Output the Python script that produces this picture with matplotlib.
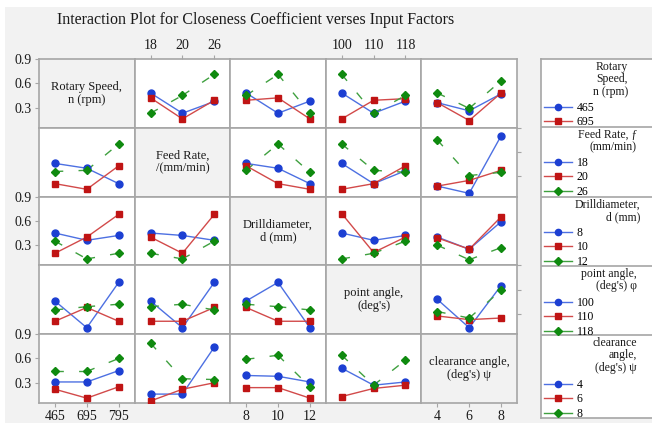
import matplotlib.pyplot as plt
from matplotlib.lines import Line2D
from matplotlib.legend import Legend
from matplotlib.patches import Rectangle

plt.rcParams['font.family'] = ['Liberation Serif', 'DejaVu Serif']

# factor names shown on the diagonal and in the legend
diag_titles = ["Rotary Speed,\nn (rpm)", "Feed Rate,\n/(mm/min)", "Drilldiameter,\nd (mm)",
               "point angle,\n(deg's)", "clearance angle,\n(deg's) \u03c8"]
legend_titles = ["Rotary\nSpeed,\nn (rpm)", "Feed Rate, \u0192\n(mm/min)", "Drilldiameter,\nd (mm)",
                 "point angle,\n(deg's) \u03c6", "clearance\nangle,\n(deg's) \u03c8"]
speed_levels = ["465", "695", "795"]
feed_levels = ["18", "20", "26"]
drill_levels = ["8", "10", "12"]
point_levels = ["100", "110", "118"]
clear_levels = ["4", "6", "8"]
levels = [speed_levels, feed_levels, drill_levels, point_levels, clear_levels]

# closeness coefficient means: one list per column (x factor), traces = levels of the row factor
speed_traces = [
    None,
    [[0.48, 0.23, 0.375], [0.42, 0.16, 0.39], [0.23, 0.45, 0.71]],
    [[0.48, 0.23, 0.38], [0.39, 0.42, 0.16], [0.45, 0.71, 0.23]],
    [[0.48, 0.23, 0.38], [0.16, 0.39, 0.41], [0.71, 0.23, 0.45]],
    [[0.36, 0.26, 0.47], [0.36, 0.14, 0.48], [0.48, 0.29, 0.63]],
]
feed_traces = [
    [[0.46, 0.40, 0.21], [0.21, 0.14, 0.43], [0.36, 0.375, 0.70]],
    None,
    [[0.46, 0.40, 0.21], [0.43, 0.21, 0.14], [0.375, 0.70, 0.35]],
    [[0.46, 0.21, 0.37], [0.14, 0.21, 0.43], [0.70, 0.375, 0.35]],
    [[0.18, 0.09, 0.80], [0.18, 0.25, 0.375], [0.75, 0.31, 0.35]],
]
drill_traces = [
    [[0.45, 0.36, 0.42], [0.20, 0.40, 0.68], [0.35, 0.13, 0.20]],
    [[0.45, 0.42, 0.36], [0.40, 0.20, 0.68], [0.20, 0.13, 0.35]],
    None,
    [[0.45, 0.36, 0.42], [0.69, 0.21, 0.40], [0.13, 0.20, 0.35]],
    [[0.40, 0.25, 0.59], [0.39, 0.25, 0.65], [0.30, 0.12, 0.27]],
]
point_traces = [
    [[0.46, 0.13, 0.69], [0.21, 0.38, 0.21], [0.35, 0.39, 0.42]],
    [[0.46, 0.13, 0.69], [0.21, 0.21, 0.38], [0.39, 0.42, 0.35]],
    [[0.46, 0.69, 0.13], [0.38, 0.21, 0.21], [0.42, 0.39, 0.35]],
    None,
    [[0.48, 0.13, 0.65], [0.275, 0.23, 0.25], [0.33, 0.25, 0.59]],
]
clear_traces = [
    [[0.31, 0.31, 0.45], [0.22, 0.11, 0.25], [0.44, 0.44, 0.60]],
    [[0.16, 0.16, 0.74], [0.075, 0.22, 0.30], [0.79, 0.35, 0.34]],
    [[0.39, 0.38, 0.31], [0.24, 0.24, 0.11], [0.59, 0.64, 0.25]],
    [[0.48, 0.27, 0.31], [0.13, 0.23, 0.27], [0.64, 0.27, 0.58]],
    None,
]
rows = [speed_traces, feed_traces, drill_traces, point_traces, clear_traces]

marker_colors = ['#1c3fd2', '#c01414', '#0f8a0f']
line_colors = ['#4d70e2', '#d24a4a', '#3fa03f']
markers = ['o', 's', 'D']
msizes = [5, 5, 4.5]
grey = '#a6a6a6'

W, H = 652, 423
fig = plt.figure(figsize=(W / 100, H / 100), dpi=100, facecolor='white')
fig.patches.append(Rectangle((5 / W, 0), 1, 1 - 7 / H, transform=fig.transFigure,
                             facecolor='#f2f2f2', edgecolor='none', zorder=-10))

fig.text(256 / W, 1 - 20 / H, "Interaction Plot for Closeness Coefficient verses Input Factors",
         ha='center', va='center', fontsize=11.5, color='#1a1a1a')

gs = fig.add_gridspec(5, 5, left=39 / W, right=517 / W, top=1 - 59 / H, bottom=1 - 403 / H,
                      wspace=0, hspace=0)
xs = [0, 1, 2]
for i in range(5):
    for j in range(5):
        ax = fig.add_subplot(gs[i, j])
        ax.set_xlim(-0.5, 2.5)
        ax.set_ylim(0.05, 0.9)
        ax.set_xticks(xs)
        ax.set_yticks([0.3, 0.6, 0.9])
        for s in ax.spines.values():
            s.set_color(grey)
            s.set_linewidth(1.2)
        ax.tick_params(length=3, color=grey, labelsize=10, labelcolor='#1a1a1a', pad=2,
                       left=False, bottom=False, labelleft=False, labelbottom=False)
        if i == j:
            ax.set_facecolor('#f2f2f2')
            ax.text(0.5, 0.5, diag_titles[i], transform=ax.transAxes, ha='center', va='center',
                    fontsize=9, color='#1a1a1a', linespacing=1.1)
        else:
            for k in range(3):
                vals = rows[i][j][k]
                if k < 2:
                    ax.plot(xs, vals, color=line_colors[k], lw=1, zorder=2 + k)
                else:
                    # green traces are drawn broken, one dashed piece per pair of levels
                    for a in range(2):
                        ax.plot(xs[a:a + 2], vals[a:a + 2], color=line_colors[k], lw=1,
                                dashes=(6, 11), zorder=2 + k)
                ax.plot(xs, vals, ls='none', marker=markers[k], ms=msizes[k],
                        color=marker_colors[k], zorder=5 + k)
        ax.set_xticklabels(levels[j])
        if j == 0 and i % 2 == 0:
            ax.tick_params(left=True, labelleft=True)
        if j == 4 and i % 2 == 1:
            ax.tick_params(right=True)
        if i == 0 and j % 2 == 1:
            ax.tick_params(top=True, labeltop=True)
        if i == 4 and j % 2 == 0:
            ax.tick_params(bottom=True, labelbottom=True)

# legend column on the right
lax = fig.add_axes([541 / W, 1 - 418 / H, (W - 541) / W, (418 - 59) / H])
lax.set_xlim(541, W)
lax.set_ylim(418, 59)
lax.set_xticks([])
lax.set_yticks([])
lax.spines['right'].set_visible(False)
for s in ['left', 'top', 'bottom']:
    lax.spines[s].set_color(grey)
    lax.spines[s].set_linewidth(1.2)
for yb in [127, 197, 266, 335]:
    lax.axhline(yb, color=grey, lw=1.2)

title_right = [628, 637, 640, 637, 637]
title_top = [61, 129, 199, 268, 337]
entry_top = [102, 157, 227, 297, 379]
entry_counts = [2, 3, 3, 3, 3]
for sec in range(5):
    lax.text(title_right[sec], title_top[sec], legend_titles[sec], ha='right', va='top',
             multialignment='right', fontsize=8.5, linespacing=1.05, color='#1a1a1a')
    handles = [Line2D([], [], color=line_colors[k], marker=markers[k], ms=msizes[k] - 0.5,
                      mfc=marker_colors[k], mec=marker_colors[k], lw=1)
               for k in range(entry_counts[sec])]
    leg = Legend(lax, handles, levels[sec][:entry_counts[sec]], loc='upper left',
                 bbox_to_anchor=((544 - 541) / (W - 541), (418 - entry_top[sec]) / (418 - 59)),
                 frameon=False, fontsize=8.5, borderpad=0, borderaxespad=0,
                 handlelength=2.4, handletextpad=0.35, labelspacing=0.2)
    lax.add_artist(leg)

fig.savefig('out.png', dpi=100, facecolor=fig.get_facecolor())
